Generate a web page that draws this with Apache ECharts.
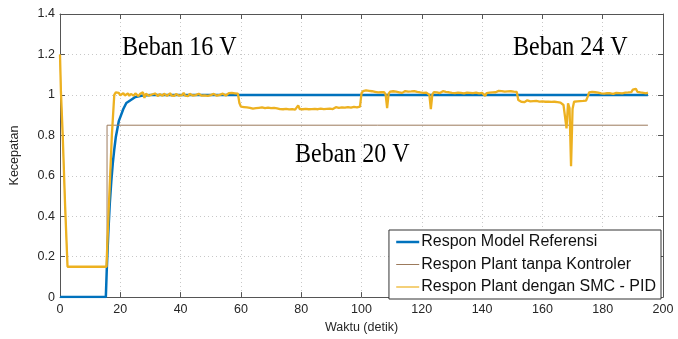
<!DOCTYPE html>
<html>
<head>
<meta charset="utf-8">
<script src="https://cdn.jsdelivr.net/npm/echarts@6/dist/echarts.min.js"></script>
<style>
html,body{margin:0;padding:0;background:#fff;}
#chart{width:678px;height:339px;}
</style>
</head>
<body>
<div id="chart"></div>
<script>
// ---- Data ----
const xTicks = [0, 20, 40, 60, 80, 100, 120, 140, 160, 180, 200];
const yTicks = [0, 0.2, 0.4, 0.6, 0.8, 1, 1.2, 1.4];
const seriesNames = ['Respon Model Referensi', 'Respon Plant tanpa Kontroler', 'Respon Plant dengan SMC - PID'];
const annotations = ['Beban 16 V', 'Beban 20 V', 'Beban 24 V'];

// Reference model response [t, value]
const modelRef = [[0,0],[15.2,0],[15.5,0.13],[16,0.31],[16.5,0.46],[17,0.57],[17.5,0.66],[18,0.73],[18.5,0.79],
  [19,0.83],[19.5,0.87],[20,0.89],[21,0.93],[22,0.96],[23,0.97],[24,0.98],[25,0.99],[27,0.996],[30,1.0],[195,1.0]];

// Plant without controller [t, value]
const plantOpen = [[0,1.2],[0.3,1.02],[0.9,0.8],[1.7,0.45],[2.5,0.15],[15.6,0.15],[15.6,0.85],[195,0.85]];

// Plant with SMC-PID: start-up points [t, value]
const smcStart = [[0,1.2],[0.3,1.02],[0.9,0.8],[1.7,0.45],[2.5,0.15],[15.4,0.15],[16.2,0.45],[17.2,0.8],[18,1.0]];
// Sampled segments every 0.5 s (value lists), with their start times
const sampleStep = 0.5;
const smc16V_t0 = 18.5;
const smc16V = [
1.012,1.006,1.010,0.998,1.004,1.009,0.997,1.003,1.007,0.995,
1.005,1.001,0.996,1.008,1.002,0.994,1.004,1.000,1.013,0.985,
1.006,1.001,0.996,1.005,1.002,0.997,1.007,0.999,0.994,1.004,
1.001,0.996,1.006,1.000,0.995,1.003,1.008,0.997,1.002,0.995,
1.005,1.000,0.996,1.004,0.999,1.010,0.996,1.002,0.994,1.005,
1.001,0.997,1.004,0.999,0.993,1.006,1.001,0.996,1.003,0.998,
1.007,0.995,1.002,0.999,0.993,1.005,0.999,0.996,1.004,1.000,
0.995,1.006,1.001,0.997,1.003,1.009,1.002,1.010,1.004,1.008,
1.003,1.006];
const smcStep1 = [[59.5,0.96]];
const smc20V_t0 = 60;
const smc20V = [
0.942,0.936,0.940,0.933,0.938,0.931,0.936,0.940,0.932,0.937,
0.934,0.929,0.936,0.932,0.938,0.930,0.935,0.931,0.937,0.929,
0.934,0.930,0.936,0.928,0.933,0.938,0.930,0.934,0.929,0.935,
0.931,0.937,0.928,0.933,0.930,0.936,0.927,0.933,0.948,0.930,
0.935,0.929,0.934,0.931,0.937,0.929,0.933,0.930,0.936,0.931,
0.934,0.929,0.937,0.932,0.935,0.930,0.936,0.931,0.938,0.932,
0.936,0.930,0.935,0.939,0.931,0.936,0.933,0.938,0.931,0.937,
0.934,0.940,0.932,0.937,0.935,0.941,0.933,0.938,0.936,0.942];
const smc16Vb_t0 = 100;
const smc16Vb = [
1.008,1.019,1.014,1.022,1.016,1.020,1.013,1.018,1.024,1.015,
1.019,1.012,1.017,1.013,1.020,1.014,1.003,0.935,1.006,1.016,
1.012,1.018,1.011,1.016,1.021,1.013,1.017,1.010,1.015,1.019,
1.012,1.016,1.010,1.017,1.013,1.019,1.011,1.015,1.020,1.012,
1.016,1.010,1.015,1.011,1.017,1.001,0.930,1.003,1.014,1.019,
1.012,1.016,1.009,1.014,1.018,1.011,1.015,1.008,1.013,1.017,
1.010,1.014,1.009,1.015,1.011,1.017,1.010,1.013,1.008,1.014,
1.011,1.016,1.010,1.013,1.009,1.015,1.011,1.014,1.008,1.012,
1.010,1.006,0.995,1.009,1.015,1.011,1.016,1.012,1.018,1.013,
1.017,1.020,1.014,1.019,1.022,1.016,1.021,1.017,1.023,1.018,
1.021,1.016,1.019,1.015];
const smcStep2 = [[152,0.975]];
const smc24V_t0 = 152.5;
const smc24V = [
0.972,0.966,0.970,0.964,0.969,0.973,0.965,0.968,0.963,0.969,
0.965,0.970,0.962,0.967,0.963,0.968,0.961,0.966,0.962,0.967,
0.960,0.965,0.961,0.966,0.959,0.964,0.960,0.962,0.957,0.950,
0.950,0.834,0.958,0.935,0.647,0.930,0.966,0.972,0.968,0.974,
0.969,0.975,0.970,0.976,0.972];
const smcStep3 = [[175,0.99]];
const smcEnd_t0 = 175.5;
const smcEnd = [
1.012,1.006,1.015,1.009,1.013,1.007,1.011,1.016,1.008,1.012,
1.006,1.013,1.009,1.015,1.008,1.012,1.005,1.014,1.010,1.016,
1.009,1.013,1.007,1.015,1.011,1.018,1.012,1.020,1.014,1.026,
1.017,1.030,1.015,1.021,1.012,1.016,1.010,1.013,1.008,1.011];

// ---- Build ----
function sampled(t0, vals) { return vals.map((v, i) => [t0 + i * sampleStep, v]); }
const smcPid = [].concat(
  smcStart, sampled(smc16V_t0, smc16V), smcStep1, sampled(smc20V_t0, smc20V),
  sampled(smc16Vb_t0, smc16Vb), smcStep2, sampled(smc24V_t0, smc24V), smcStep3,
  sampled(smcEnd_t0, smcEnd));

const FONT = 'Liberation Sans';
const axisColor = '#555555';
const chart = echarts.init(document.getElementById('chart'), null, {renderer: 'canvas'});
const xMin = xTicks[0], xMax = xTicks[xTicks.length - 1], xInt = xTicks[1] - xTicks[0];
const yMin = yTicks[0], yMax = yTicks[yTicks.length - 1], yInt = 0.2;
const yFmt = v => String(+(+v).toFixed(1));

chart.setOption({
  animation: false,
  backgroundColor: '#fff',
  grid: {left: 58.5, right: 15, top: 14, bottom: 38, containLabel: false},
  xAxis: [{
    type: 'value', min: xMin, max: xMax, interval: xInt,
    name: 'Waktu (detik)', nameLocation: 'middle', nameGap: 22,
    nameTextStyle: {fontFamily: FONT, fontSize: 12.5, color: '#262626'},
    axisLine: {show: true, lineStyle: {color: axisColor, width: 1}},
    axisTick: {show: true, inside: true, length: 5, lineStyle: {color: axisColor}},
    axisLabel: {fontFamily: FONT, fontSize: 12.5, color: '#262626', margin: 6},
    splitLine: {show: true, lineStyle: {color: '#c8c8c8', type: [1, 3], width: 1}}
  }, {
    type: 'value', position: 'top', min: xMin, max: xMax, interval: xInt,
    axisLine: {show: true, onZero: false, lineStyle: {color: axisColor, width: 1}},
    axisTick: {show: true, inside: true, length: 5, lineStyle: {color: axisColor}},
    axisLabel: {show: false}, splitLine: {show: false}
  }],
  yAxis: [{
    type: 'value', min: yMin, max: yMax, interval: yInt,
    name: 'Kecepatan', nameLocation: 'middle', nameGap: 39, nameRotate: 90,
    nameTextStyle: {fontFamily: FONT, fontSize: 12.5, color: '#262626'},
    axisLine: {show: true, lineStyle: {color: axisColor, width: 1}},
    axisTick: {show: true, inside: true, length: 5, lineStyle: {color: axisColor}},
    axisLabel: {fontFamily: FONT, fontSize: 12.5, color: '#262626', margin: 5, formatter: yFmt},
    splitLine: {show: true, lineStyle: {color: '#c8c8c8', type: [1, 3], width: 1}}
  }, {
    type: 'value', position: 'right', min: yMin, max: yMax, interval: yInt,
    axisLine: {show: true, onZero: false, lineStyle: {color: axisColor, width: 1}},
    axisTick: {show: true, inside: true, length: 5, lineStyle: {color: axisColor}},
    axisLabel: {show: false}, splitLine: {show: false}
  }],
  legend: {
    orient: 'vertical', right: 17, top: 230,
    padding: [4, 5, 4, 6], itemGap: 6.5, itemWidth: 23, itemHeight: 15,
    backgroundColor: '#fff', borderColor: '#333', borderWidth: 1,
    itemStyle: {opacity: 0},
    textStyle: {fontFamily: FONT, fontSize: 16, color: '#111', padding: [0, 0, 0, -3]},
    data: [
      {name: seriesNames[0], lineStyle: {width: 2.5}},
      {name: seriesNames[1], lineStyle: {width: 1}},
      {name: seriesNames[2], lineStyle: {width: 1.2}}
    ]
  },
  series: [
    {name: seriesNames[0], type: 'line', data: modelRef, symbol: 'none',
     lineStyle: {color: '#0072BD', width: 2.5}, itemStyle: {color: '#0072BD'}, z: 2},
    {name: seriesNames[1], type: 'line', data: plantOpen, symbol: 'none',
     lineStyle: {color: '#9c7a5c', width: 1}, itemStyle: {color: '#9c7a5c'}, z: 3},
    {name: seriesNames[2], type: 'line', data: smcPid, symbol: 'none',
     lineStyle: {color: '#EDB120', width: 2.3}, itemStyle: {color: '#EDB120'}, z: 4}
  ],
  graphic: [
    {type: 'text', x: 122, y: 47.5, scaleY: 1.12, z: 10,
     style: {text: annotations[0], font: '24px "Liberation Serif"', fill: '#000', verticalAlign: 'middle'}},
    {type: 'text', x: 295, y: 154.5, scaleY: 1.12, z: 10,
     style: {text: annotations[1], font: '24px "Liberation Serif"', fill: '#000', verticalAlign: 'middle'}},
    {type: 'text', x: 513, y: 47.5, scaleY: 1.12, z: 10,
     style: {text: annotations[2], font: '24px "Liberation Serif"', fill: '#000', verticalAlign: 'middle'}}
  ]
});
</script>
</body>
</html>
